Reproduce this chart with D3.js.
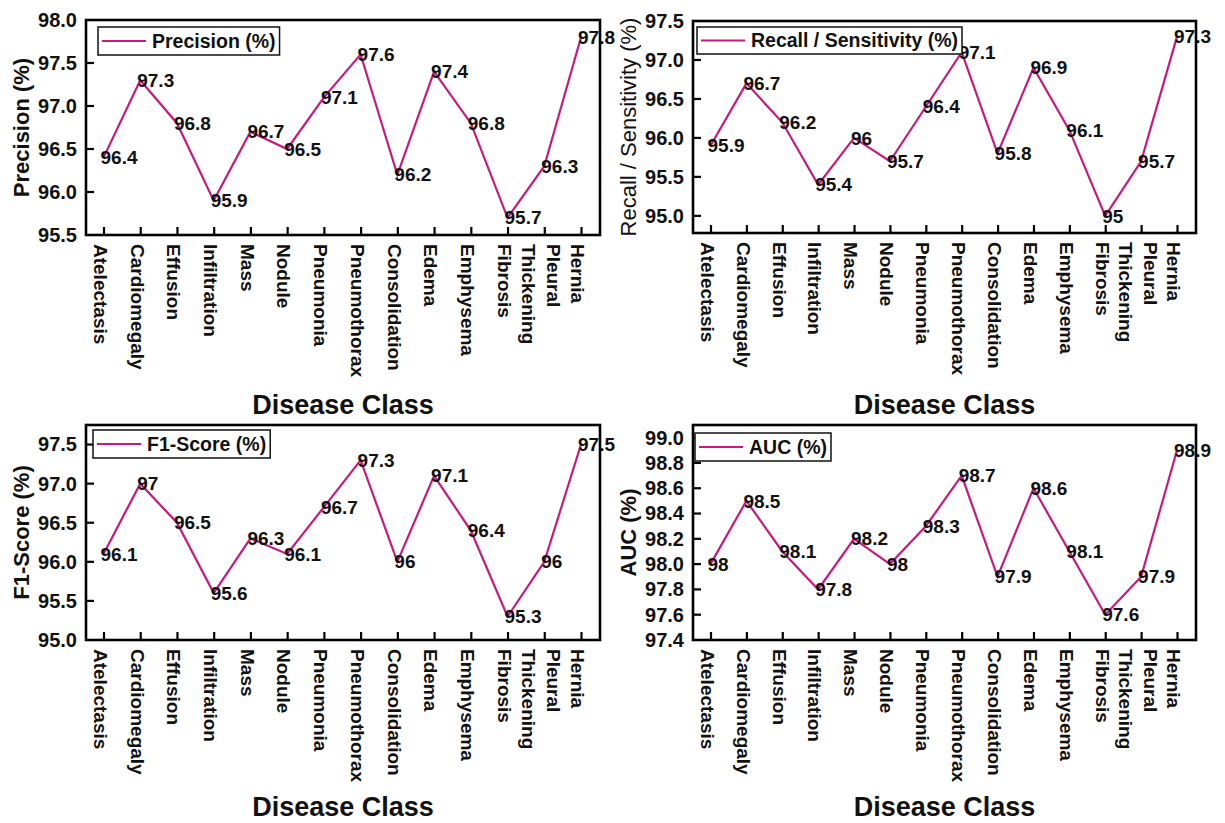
<!DOCTYPE html>
<html>
<head>
<meta charset="utf-8">
<script src="https://cdn.jsdelivr.net/npm/d3@7"></script>
<style>
  html, body { margin: 0; padding: 0; background: #fff; }
  svg { display: block; font-family: Arial, "Liberation Sans", sans-serif; }
</style>
</head>
<body>
<svg id="chart" width="1225" height="823"></svg>
<script>
// ---------------- DATA ----------------
const categories = ["Atelectasis", "Cardiomegaly", "Effusion", "Infiltration", "Mass", "Nodule",
  "Pneumonia", "Pneumothorax", "Consolidation", "Edema", "Emphysema", "Fibrosis",
  "Pleural Thickening", "Hernia"];

const precision = [96.4, 97.3, 96.8, 95.9, 96.7, 96.5, 97.1, 97.6, 96.2, 97.4, 96.8, 95.7, 96.3, 97.8];
const recall    = [95.9, 96.7, 96.2, 95.4, 96, 95.7, 96.4, 97.1, 95.8, 96.9, 96.1, 95, 95.7, 97.3];
const f1Score   = [96.1, 97, 96.5, 95.6, 96.3, 96.1, 96.7, 97.3, 96, 97.1, 96.4, 95.3, 96, 97.5];
const auc       = [98, 98.5, 98.1, 97.8, 98.2, 98, 98.3, 98.7, 97.9, 98.6, 98.1, 97.6, 97.9, 98.9];

const precisionTicks = [95.5, 96.0, 96.5, 97.0, 97.5, 98.0];
const recallTicks    = [95.0, 95.5, 96.0, 96.5, 97.0, 97.5];
const f1Ticks        = [95.0, 95.5, 96.0, 96.5, 97.0, 97.5];
const aucTicks       = [97.4, 97.6, 97.8, 98.0, 98.2, 98.4, 98.6, 98.8, 99.0];

const seriesNames = ["Precision (%)", "Recall / Sensitivity (%)", "F1-Score (%)", "AUC (%)"];
const xAxisTitle = "Disease Class";

// ---------------- LAYOUT ----------------
const LINE_COLOR = "#c8197f";
const panels = [
  { values: precision, ticks: precisionTicks, domain: [95.5, 98.0], name: seriesNames[0],
    yTitle: "Precision (%)", yTitleBold: true,
    x0: 86, x1: 600, y0: 20, y1: 235, legend: { x: 98, y: 27, h: 28 }, titleOff: 179 },
  { values: recall, ticks: recallTicks, domain: [94.78, 97.5], name: seriesNames[1],
    yTitle: "Recall / Sensitivity (%)", yTitleBold: false,
    x0: 693, x1: 1196, y0: 21, y1: 233, legend: { x: 697, y: 27, h: 27 }, titleOff: 181 },
  { values: f1Score, ticks: f1Ticks, domain: [95.0, 97.75], name: seriesNames[2],
    yTitle: "F1-Score (%)", yTitleBold: true,
    x0: 86, x1: 600, y0: 425, y1: 640, legend: { x: 93, y: 430, h: 28 }, titleOff: 176 },
  { values: auc, ticks: aucTicks, domain: [97.4, 99.1], name: seriesNames[3],
    yTitle: "AUC (%)", yTitleBold: true,
    x0: 693, x1: 1196, y0: 425, y1: 640, legend: { x: 695, y: 433, h: 28 }, titleOff: 176 }
];

const svg = d3.select("#chart");

panels.forEach(p => {
  const g = svg.append("g");
  const x = d3.scalePoint().domain(categories).range([p.x0 + 17.5, p.x1 - 19]);
  const y = d3.scaleLinear().domain(p.domain).range([p.y1, p.y0]);

  // line
  const line = d3.line()
    .x((d, i) => x(categories[i]))
    .y(d => y(d));
  g.append("path")
    .datum(p.values)
    .attr("d", line)
    .attr("fill", "none")
    .attr("stroke", LINE_COLOR)
    .attr("stroke-width", 2.2)
    .attr("stroke-linejoin", "miter");

  // data labels
  g.append("g").selectAll("text")
    .data(p.values)
    .join("text")
    .attr("x", (d, i) => x(categories[i]) - 3)
    .attr("y", d => y(d))
    .attr("dy", "0.35em")
    .attr("font-size", 19)
    .attr("font-weight", "bold")
    .attr("fill", "#111")
    .text(d => String(d));

  // y axis (ticks inward)
  const yAxis = d3.axisLeft(y).tickValues(p.ticks).tickFormat(d3.format(".1f")).tickSize(0).tickPadding(9);
  const ya = g.append("g").attr("transform", `translate(${p.x0},0)`).call(yAxis);
  ya.select(".domain").remove();
  ya.selectAll("text").attr("font-size", 20).attr("font-weight", "bold").attr("fill", "#111")
    .attr("font-family", "Arial, 'Liberation Sans', sans-serif");
  g.append("g").selectAll("line")
    .data(p.ticks.filter(t => y(t) > p.y0 + 2 && y(t) < p.y1 - 2))
    .join("line")
    .attr("x1", p.x0).attr("x2", p.x0 + 8)
    .attr("y1", d => y(d)).attr("y2", d => y(d))
    .attr("stroke", "#000").attr("stroke-width", 2.2);

  // x axis (ticks inward)
  const xAxis = d3.axisBottom(x).tickSize(-8).tickFormat("");
  const xa = g.append("g").attr("transform", `translate(0,${p.y1})`).call(xAxis);
  xa.select(".domain").remove();
  xa.selectAll(".tick line").attr("stroke", "#000").attr("stroke-width", 2.2);

  // x tick labels (rotated)
  const xl = g.append("g").selectAll("text")
    .data(categories)
    .join("text")
    .attr("transform", d => `translate(${x(d) - 3},${p.y1 + 9}) rotate(90)`)
    .attr("text-anchor", "start")
    .attr("font-size", 19)
    .attr("font-weight", "bold")
    .attr("fill", "#111");
  xl.each(function(d) {
    const parts = d.split(" ");
    const t = d3.select(this);
    if (parts.length === 1) {
      t.append("tspan").attr("x", 0).attr("y", 0).attr("dy", "0.35em").text(d);
    } else {
      const lh = 25;
      parts.forEach((w, k) => {
        t.append("tspan").attr("x", 0)
          .attr("y", (k - (parts.length - 1) / 2) * lh)
          .attr("dy", "0.35em").text(w);
      });
    }
  });

  // frame
  g.append("rect")
    .attr("x", p.x0).attr("y", p.y0)
    .attr("width", p.x1 - p.x0).attr("height", p.y1 - p.y0)
    .attr("fill", "none").attr("stroke", "#000").attr("stroke-width", 2.6);

  // y title
  g.append("text")
    .attr("transform", `translate(${p.x0 - 65},${(p.y0 + p.y1) / 2}) rotate(-90)`)
    .attr("text-anchor", "middle")
    .attr("dy", "0.35em")
    .attr("font-size", 22)
    .attr("font-weight", p.yTitleBold ? "bold" : "normal")
    .attr("fill", "#111")
    .text(p.yTitle);

  // x title
  g.append("text")
    .attr("x", (p.x0 + p.x1) / 2)
    .attr("y", p.y1 + p.titleOff)
    .attr("text-anchor", "middle")
    .attr("font-size", 27)
    .attr("font-weight", "bold")
    .attr("fill", "#111")
    .text(xAxisTitle);

  // legend
  const L = p.legend;
  const lg = g.append("g");
  const box = lg.append("rect")
    .attr("x", L.x).attr("y", L.y).attr("height", L.h)
    .attr("fill", "#fff").attr("stroke", "#111").attr("stroke-width", 1.5);
  lg.append("line")
    .attr("x1", L.x + 4).attr("x2", L.x + 48)
    .attr("y1", L.y + L.h / 2).attr("y2", L.y + L.h / 2)
    .attr("stroke", LINE_COLOR).attr("stroke-width", 2.2);
  const lt = lg.append("text")
    .attr("x", L.x + 54).attr("y", L.y + L.h / 2)
    .attr("dy", "0.35em")
    .attr("font-size", 19.5)
    .attr("font-weight", "bold")
    .attr("fill", "#111")
    .text(p.name);
  const tw = lt.node().getComputedTextLength();
  box.attr("width", 54 + tw + 4);
});
</script>
</body>
</html>
